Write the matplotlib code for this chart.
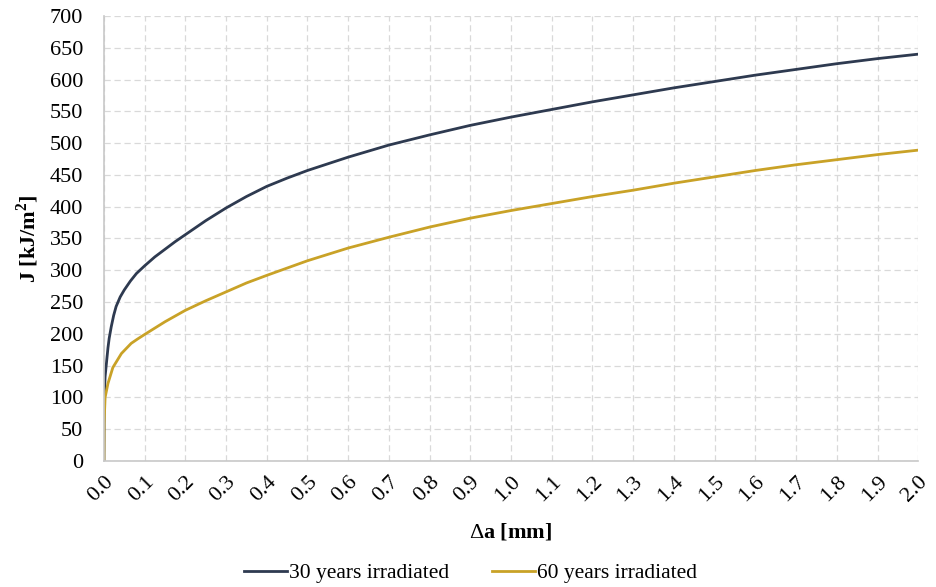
import matplotlib
matplotlib.use("Agg")
from matplotlib import pyplot as plt
import numpy as np

# crack extension [mm] and J [kJ/m2]
a_30 = [0.0, 0.0005, 0.003, 0.01, 0.013, 0.018, 0.024, 0.03, 0.04, 0.05, 0.065,
        0.08, 0.1, 0.125, 0.15, 0.175, 0.2, 0.25, 0.3, 0.35, 0.4, 0.45, 0.5,
        0.6, 0.7, 0.8, 0.9, 1.0, 1.1, 1.2, 1.3, 1.4, 1.5, 1.6, 1.7, 1.8, 1.9, 2.0]
j_30 = [0, 95, 133, 178, 193, 211, 229, 243, 258, 269, 283,
        295, 307, 321, 333, 345, 356, 378, 398, 416, 432, 445, 457,
        478, 497, 513, 528, 541, 553, 565, 576, 587, 597, 607, 616, 625, 633, 640]

a_60 = [0.0, 0.0005, 0.003, 0.01, 0.022, 0.043, 0.055, 0.067, 0.083, 0.1,
        0.15, 0.2, 0.25, 0.3, 0.35, 0.4, 0.5, 0.6, 0.7, 0.8, 0.9, 1.0, 1.1,
        1.2, 1.3, 1.4, 1.5, 1.6, 1.7, 1.8, 1.9, 2.0]
j_60 = [0, 60, 100, 122, 147, 169, 177, 185, 192, 199,
        219, 237, 252, 266, 280, 292, 315, 335, 352, 368, 382, 394, 405,
        416, 426, 437, 447, 457, 466, 474, 482, 489]

labels = ["30 years irradiated", "60 years irradiated"]
colors = ["#2E3A50", "#C9A227"]

plt.rcParams['font.family'] = ['Liberation Serif', 'DejaVu Serif']
plt.rcParams['mathtext.fontset'] = 'custom'
plt.rcParams['mathtext.rm'] = 'Liberation Serif'
plt.rcParams['mathtext.bf'] = 'Liberation Serif:bold'

fig = plt.figure(figsize=(9.36, 5.87), dpi=100)
ax = fig.add_axes([0.111, 0.2147, 0.870, 0.758])

ax.plot(a_30, j_30, color=colors[0], lw=2.0, label=labels[0], solid_joinstyle='round')
ax.plot(a_60, j_60, color=colors[1], lw=2.0, label=labels[1], solid_joinstyle='round')

ax.set_xlim(0, 2.0)
ax.set_ylim(0, 700)
ax.set_xticks(np.arange(0, 2.01, 0.1))
ax.set_xticklabels([f"{v:.1f}" for v in np.arange(0, 2.01, 0.1)],
                   rotation=45, ha='right', va='top', rotation_mode='anchor')
ax.set_yticks(np.arange(0, 701, 50))

ax.grid(True, color='#d9d9d9', linestyle=(0, (5, 3)), lw=0.9)
ax.set_axisbelow(True)
for s in ['top', 'right']:
    ax.spines[s].set_visible(False)
for s in ['left', 'bottom']:
    ax.spines[s].set_color('#c8c8c8')
    ax.spines[s].set_linewidth(1.2)
ax.tick_params(length=0, labelsize=16, colors='black')
ax.tick_params(axis='x', pad=8)
ax.tick_params(axis='y', pad=15)

ax.set_xlabel(r"$\Delta$a [mm]", fontsize=16, fontweight='bold', labelpad=12)
ax.set_ylabel(r"J [kJ/m$^{\mathbf{2}}$]", fontsize=16, fontweight='bold', labelpad=6)

ax.legend(loc='center', bbox_to_anchor=(0.45, -0.252), ncol=2, frameon=False,
          fontsize=15.5, handlelength=2.0, handletextpad=0.1, columnspacing=2.0)

fig.savefig("out.png", dpi=100)
